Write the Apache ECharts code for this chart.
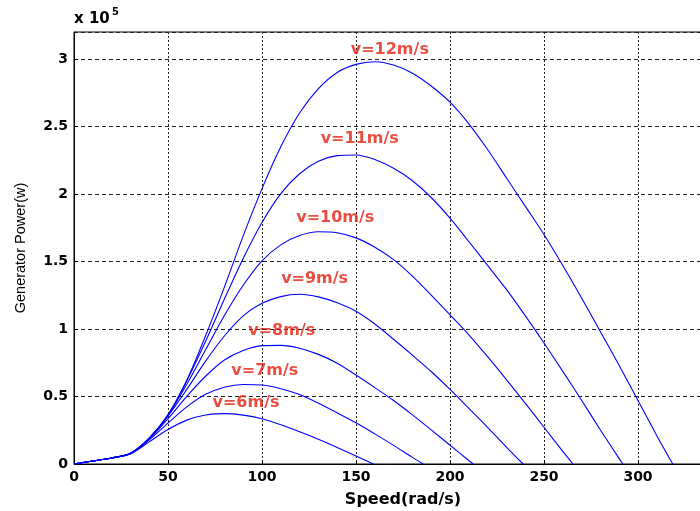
<!DOCTYPE html>
<html>
<head>
<meta charset="utf-8">
<script src="https://cdn.jsdelivr.net/npm/echarts@6/dist/echarts.min.js"></script>
<style>
  html, body { margin: 0; padding: 0; background: #fff; }
  #chart { width: 700px; height: 511px; }
</style>
</head>
<body>
<div id="chart"></div>
<script>
// generator power in units of 1e5 W, sampled every 10 rad/s from 0
const speedStep = 10
const windSpeeds = [6, 7, 8, 9, 10, 11, 12]
const cutoffSpeed = [159.3, 185.8, 212.3, 238.9, 265.4, 292, 318.5]

const power6 = [0, 0.022, 0.045, 0.075, 0.164, 0.255, 0.325, 0.363, 0.373, 0.362, 0.335, 0.291, 0.239, 0.184, 0.123, 0.059]
const power7 = [0, 0.022, 0.045, 0.077, 0.179, 0.303, 0.423, 0.516, 0.569, 0.589, 0.585, 0.558, 0.514, 0.450, 0.379, 0.305, 0.223, 0.138, 0.049]
const power8 = [0, 0.022, 0.045, 0.078, 0.184, 0.335, 0.501, 0.650, 0.770, 0.841, 0.877, 0.879, 0.858, 0.812, 0.747, 0.659, 0.566, 0.470, 0.364, 0.253, 0.139, 0.026]
const power9 = [0, 0.022, 0.045, 0.078, 0.188, 0.355, 0.553, 0.762, 0.948, 1.097, 1.190, 1.240, 1.257, 1.238, 1.194, 1.131, 1.037, 0.924, 0.806, 0.685, 0.552, 0.413, 0.272, 0.125]
const power10 = [0, 0.022, 0.045, 0.079, 0.189, 0.359, 0.591, 0.846, 1.100, 1.324, 1.505, 1.623, 1.692, 1.720, 1.713, 1.675, 1.606, 1.514, 1.392, 1.251, 1.105, 0.957, 0.795, 0.625, 0.451, 0.272, 0.093]
const power11 = [0, 0.022, 0.045, 0.080, 0.193, 0.367, 0.617, 0.909, 1.222, 1.523, 1.789, 2.003, 2.150, 2.242, 2.284, 2.289, 2.255, 2.190, 2.098, 1.974, 1.821, 1.648, 1.471, 1.293, 1.099, 0.896, 0.686, 0.472, 0.252, 0.040]
const power12 = [0, 0.022, 0.045, 0.080, 0.190, 0.360, 0.620, 0.950, 1.310, 1.690, 2.040, 2.350, 2.600, 2.780, 2.900, 2.960, 2.980, 2.955, 2.895, 2.800, 2.680, 2.520, 2.330, 2.120, 1.910, 1.700, 1.470, 1.230, 0.980, 0.730, 0.470, 0.210]

const powerLists = [power6, power7, power8, power9, power10, power11, power12]

// curve labels (data coordinates)
const labelText = ['v=6m/s', 'v=7m/s', 'v=8m/s', 'v=9m/s', 'v=10m/s', 'v=11m/s', 'v=12m/s']
const labelX = [91.5, 101.5, 110.5, 128, 139, 152, 168]
const labelY = [0.45, 0.69, 0.99, 1.37, 1.82, 2.41, 3.07]

const chart = echarts.init(document.getElementById('chart'))

const curveSeries = powerLists.map((list, i) => {
  const data = list.map((p, k) => [k * speedStep, p])
  data.push([cutoffSpeed[i], 0])
  return {
    name: 'v=' + windSpeeds[i],
    type: 'line',
    data: data,
    smooth: 0.3,
    showSymbol: false,
    lineStyle: { color: '#0000ff', width: 1.1 },
    z: 3
  }
})

const labelSeries = {
  type: 'scatter',
  symbolSize: 0,
  data: labelText.map((t, i) => ({ value: [labelX[i], labelY[i]], name: t })),
  label: {
    show: true,
    position: 'inside',
    formatter: p => p.name,
    color: '#e4200f',
    fontFamily: 'DejaVu Sans',
    fontWeight: 'bold',
    fontSize: 16
  },
  z: 4
}

const axisFont = {
  color: '#000',
  fontFamily: 'DejaVu Sans',
  fontWeight: 'bold',
  fontSize: 14
}

chart.setOption({
  animation: false,
  backgroundColor: '#fff',
  grid: {
    left: 74,
    top: 32,
    bottom: 47,
    right: -32,
    containLabel: false,
    outerBoundsMode: 'none',
    show: true,
    borderColor: '#000',
    borderWidth: 1
  },
  graphic: [
    {
      type: 'text',
      left: 74,
      top: 12,
      style: { text: 'x 10', font: 'bold 15px "DejaVu Sans"', fill: '#000' }
    },
    {
      type: 'text',
      left: 112,
      top: 7,
      style: { text: '5', font: 'bold 10px "DejaVu Sans"', fill: '#000' }
    }
  ],
  xAxis: {
    type: 'value',
    min: 0,
    max: 350,
    interval: 50,
    name: 'Speed(rad/s)',
    nameLocation: 'middle',
    nameGap: 28,
    nameTextStyle: { color: '#000', fontFamily: 'DejaVu Sans', fontWeight: 'bold', fontSize: 16 },
    axisLine: { lineStyle: { color: '#000', width: 1 } },
    axisTick: { inside: true, length: 4, lineStyle: { color: '#000' } },
    axisLabel: Object.assign({ margin: 6 }, axisFont),
    splitLine: { show: true, lineStyle: { color: '#222', type: [2, 2], width: 1 } }
  },
  yAxis: {
    type: 'value',
    min: 0,
    max: 3.2,
    interval: 0.5,
    name: 'Generator Power(w)',
    nameLocation: 'middle',
    nameRotate: 90,
    nameGap: 46,
    nameTextStyle: { color: '#000', fontFamily: 'Liberation Sans', fontSize: 14.5 },
    axisLine: { show: true, lineStyle: { color: '#000', width: 1 } },
    axisTick: { show: true, inside: true, length: 4, lineStyle: { color: '#000' } },
    axisLabel: Object.assign({ margin: 6, showMaxLabel: false }, axisFont),
    splitLine: { show: true, lineStyle: { color: '#222', type: [4, 3], width: 1 } }
  },
  series: curveSeries.concat([labelSeries])
})
</script>
</body>
</html>
